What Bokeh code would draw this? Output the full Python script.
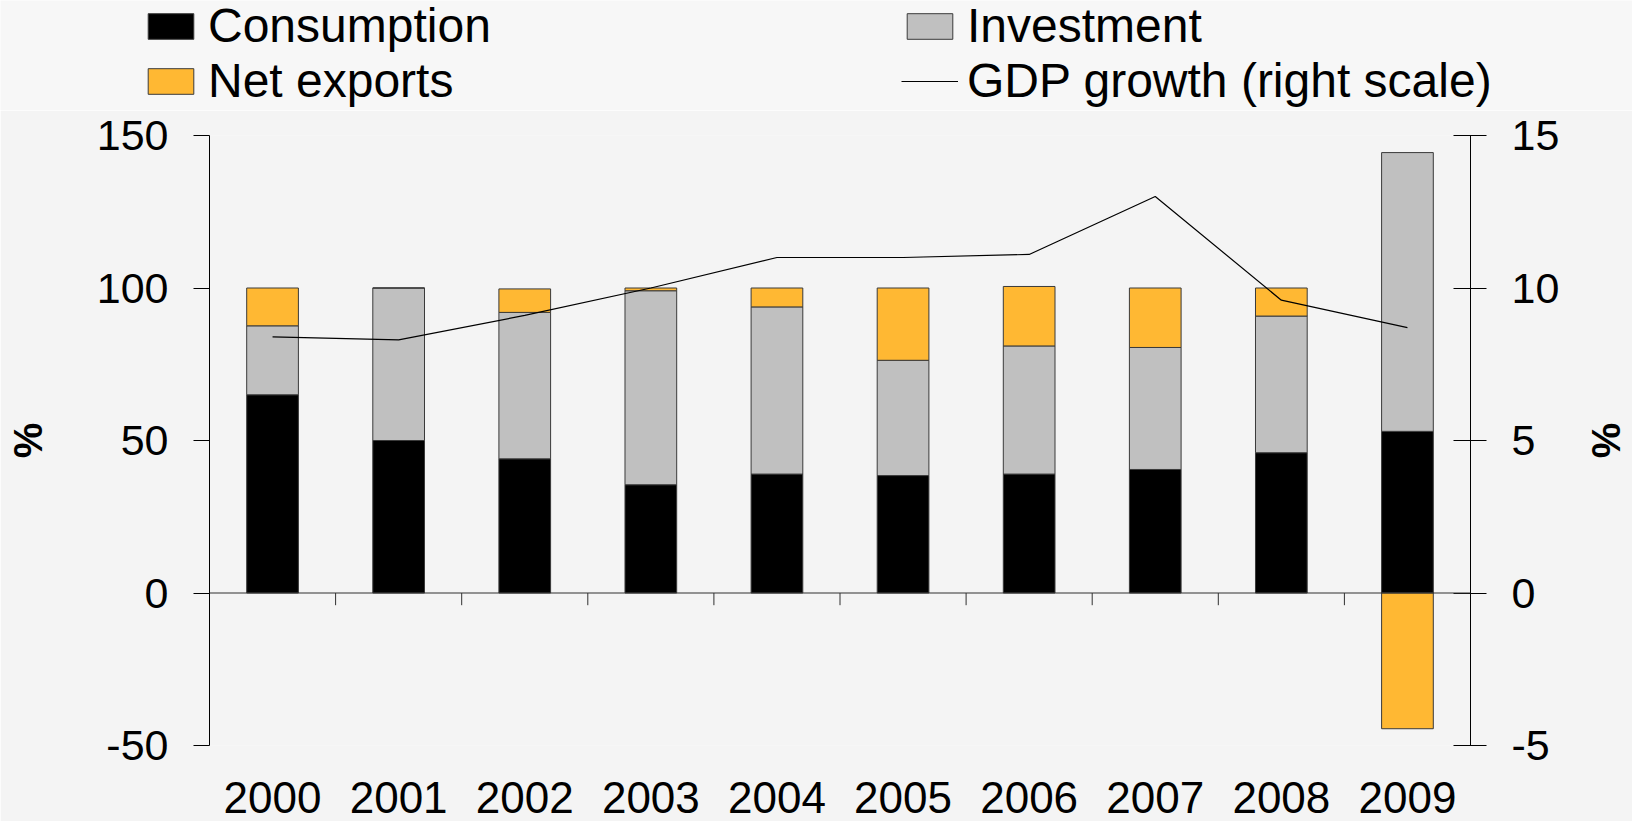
from bokeh.plotting import figure
from bokeh.layouts import column
from bokeh.models import (Range1d, LinearAxis, FixedTicker, Span, Legend, LegendItem,
                          ColumnDataSource)
from bokeh.embed import file_html
from bokeh.resources import INLINE

# ---- data ----
years = ["2000", "2001", "2002", "2003", "2004", "2005", "2006", "2007", "2008", "2009"]
consumption = [65, 50, 44, 35.5, 39, 38.5, 39, 40.5, 46, 53]
investment = [22.6, 50, 48, 63.6, 54.8, 37.8, 42, 40, 44.8, 91.4]
net_exports = [12.4, 0, 7.7, 0.9, 6.2, 23.7, 19.5, 19.5, 9.2, -44.5]
gdp_growth = [8.4, 8.3, 9.1, 10.0, 11.0, 11.0, 11.1, 13.0, 9.6, 8.7]
left_ticks = [-50, 0, 50, 100, 150]
right_ticks = [-5, 0, 5, 10, 15]

FONT = "Liberation Sans"
BG = "#f4f4f4"
BG_TOP = "#f7f7f7"
ORANGE = "#ffb833"
GREY = "#c0c0c0"
EDGE = "#3a3a3a"

n = len(years)
xc = [i + 0.5 for i in range(n)]
c_top = consumption
i_bot = consumption
i_top = [c + v for c, v in zip(consumption, investment)]
nx_bot = [t if v >= 0 else 0 for t, v in zip(i_top, net_exports)]
nx_top = [t + v if v >= 0 else v for t, v in zip(i_top, net_exports)]

src = ColumnDataSource(dict(x=xc, c_top=c_top, i_bot=i_bot, i_top=i_top,
                            nx_bot=nx_bot, nx_top=nx_top, gdp=gdp_growth))

# ---------------- main chart ----------------
p = figure(width=1632, height=711, output_backend="svg", toolbar_location=None, title=None,
           x_range=Range1d(0, n), y_range=Range1d(-50, 150),
           min_border_left=209, min_border_right=162, min_border_top=25,
           min_border_bottom=76, background_fill_color=BG, border_fill_color=BG,
           outline_line_color=None)
p.frame_align = False
p.xgrid.visible = False
p.ygrid.visible = False
p.extra_y_ranges = {"gdp": Range1d(-5, 15)}

W = 0.41
p.vbar(x="x", bottom=0, top="c_top", width=W, source=src,
       fill_color="black", line_color=EDGE, line_width=1)
p.vbar(x="x", bottom="i_bot", top="i_top", width=W, source=src,
       fill_color=GREY, line_color=EDGE, line_width=1)
p.vbar(x="x", bottom="nx_bot", top="nx_top", width=W, source=src,
       fill_color=ORANGE, line_color=EDGE, line_width=1)

# zero line and category boundary ticks
p.add_layout(Span(location=0, dimension="width", line_color="#303030", line_width=1))
bx = list(range(1, n))
p.segment(x0=bx, x1=bx, y0=[0] * len(bx), y1=[-4] * len(bx), line_color="#303030", line_width=1)

p.line(x="x", y="gdp", source=src, y_range_name="gdp", line_color="black", line_width=1.2)

# axes
xa = p.xaxis[0]
xa.ticker = FixedTicker(ticks=xc)
xa.major_label_overrides = {x: y for x, y in zip(xc, years)}
xa.axis_line_color = None
xa.major_tick_line_color = None
xa.minor_tick_line_color = None
xa.major_tick_out = 0
xa.major_tick_in = 0
xa.major_label_standoff = 36
xa.major_label_text_font = FONT
xa.major_label_text_font_size = "44px"
xa.major_label_text_color = "black"

ya = p.yaxis[0]
ya.ticker = FixedTicker(ticks=left_ticks)
ya.major_label_overrides = {t: str(t) for t in left_ticks}
ya.axis_line_color = "black"
ya.major_tick_line_color = "black"
ya.minor_tick_line_color = None
ya.major_tick_out = 16
ya.major_tick_in = 0
ya.major_label_standoff = 25
ya.major_label_text_font = FONT
ya.major_label_text_font_size = "43px"
ya.major_label_text_color = "black"
ya.axis_label = "%"
ya.axis_label_text_font = FONT
ya.axis_label_text_font_style = "bold"
ya.axis_label_text_font_size = "40px"
ya.axis_label_standoff = 44
ya.axis_label_text_color = "black"

ra = LinearAxis(y_range_name="gdp", ticker=FixedTicker(ticks=right_ticks))
ra.major_label_overrides = {t: str(t) for t in right_ticks}
ra.axis_line_color = "black"
ra.major_tick_line_color = "black"
ra.minor_tick_line_color = None
ra.major_tick_out = 16
ra.major_tick_in = 17
ra.major_label_standoff = 25
ra.major_label_text_font = FONT
ra.major_label_text_font_size = "43px"
ra.major_label_text_color = "black"
ra.axis_label = "%"
ra.axis_label_text_font = FONT
ra.axis_label_text_font_style = "bold"
ra.axis_label_text_font_size = "40px"
ra.axis_label_standoff = 22
ra.axis_label_text_color = "black"
p.add_layout(ra, "right")

# ---------------- legend strip ----------------
lf = figure(width=1632, height=110, output_backend="svg", toolbar_location=None, title=None,
            x_range=Range1d(100, 101), y_range=Range1d(100, 101), x_axis_type=None, y_axis_type=None,
            min_border=0, background_fill_color=BG_TOP, border_fill_color=BG_TOP,
            outline_line_color=None)
lf.frame_align = False
lf.xgrid.visible = False
lf.ygrid.visible = False
g_c = lf.vbar(x="x", top="c_top", width=W, source=src, fill_color="black", line_color=EDGE, visible=False)
g_i = lf.vbar(x="x", top="i_top", width=W, source=src, fill_color=GREY, line_color=EDGE, visible=False)
g_nx = lf.vbar(x="x", top="nx_top", width=W, source=src, fill_color=ORANGE, line_color=EDGE, visible=False)
g_g = lf.line(x="x", y="gdp", source=src, line_color="black", line_width=1.2, visible=False)

def make_legend(items, loc):
    return Legend(items=items, location=loc, orientation="vertical",
                  glyph_width=57, glyph_height=32, label_standoff=9,
                  label_text_font=FONT, label_text_font_size="48px",
                  label_text_color="black", spacing=0, padding=0, margin=0,
                  background_fill_alpha=0, border_line_color=None)

lf.add_layout(make_legend([LegendItem(label="Consumption", renderers=[g_c]),
                           LegendItem(label="Net exports", renderers=[g_nx])], (142, 2)), "center")
lf.add_layout(make_legend([LegendItem(label="Investment", renderers=[g_i]),
                           LegendItem(label="GDP growth (right scale)", renderers=[g_g])], (901, 2)), "center")

layout = column(lf, p, spacing=0)
open("out.html", "w").write(file_html(layout, INLINE))
